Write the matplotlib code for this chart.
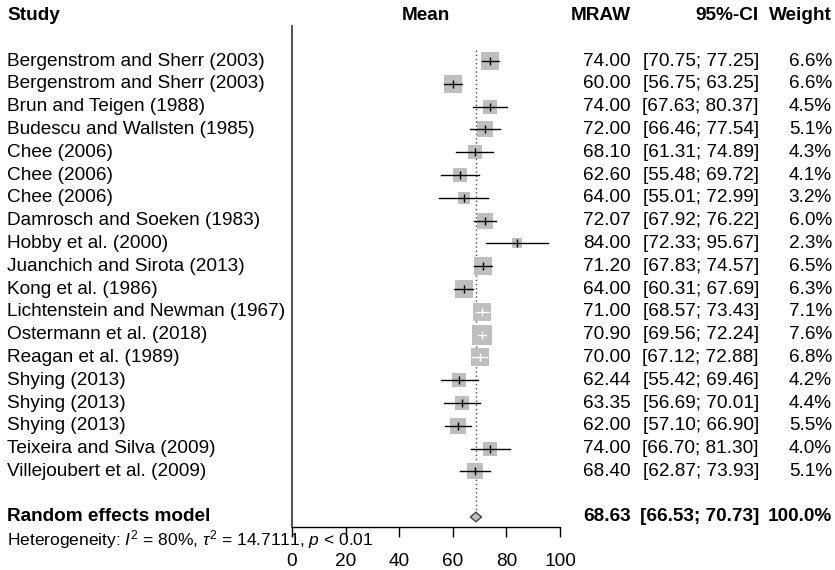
import numpy as np
import matplotlib
matplotlib.use("Agg")
import matplotlib.pyplot as plt
from matplotlib.transforms import blended_transform_factory
from matplotlib.patches import Polygon

plt.rcParams["font.family"] = ["Liberation Sans", "DejaVu Sans"]
plt.rcParams["mathtext.fontset"] = "custom"
plt.rcParams["mathtext.rm"] = "Liberation Sans"
plt.rcParams["mathtext.it"] = "Liberation Sans:italic"

studies = [
    "Bergenstrom and Sherr (2003)", "Bergenstrom and Sherr (2003)",
    "Brun and Teigen (1988)", "Budescu and Wallsten (1985)",
    "Chee (2006)", "Chee (2006)", "Chee (2006)",
    "Damrosch and Soeken (1983)", "Hobby et al. (2000)",
    "Juanchich and Sirota (2013)", "Kong et al. (1986)",
    "Lichtenstein and Newman (1967)", "Ostermann et al. (2018)",
    "Reagan et al. (1989)", "Shying (2013)", "Shying (2013)", "Shying (2013)",
    "Teixeira and Silva (2009)", "Villejoubert et al. (2009)",
]
means = [74.00, 60.00, 74.00, 72.00, 68.10, 62.60, 64.00, 72.07, 84.00, 71.20,
         64.00, 71.00, 70.90, 70.00, 62.44, 63.35, 62.00, 74.00, 68.40]
lower = [70.75, 56.75, 67.63, 66.46, 61.31, 55.48, 55.01, 67.92, 72.33, 67.83,
         60.31, 68.57, 69.56, 67.12, 55.42, 56.69, 57.10, 66.70, 62.87]
upper = [77.25, 63.25, 80.37, 77.54, 74.89, 69.72, 72.99, 76.22, 95.67, 74.57,
         67.69, 73.43, 72.24, 72.88, 69.46, 70.01, 66.90, 81.30, 73.93]
weights = [6.6, 6.6, 4.5, 5.1, 4.3, 4.1, 3.2, 6.0, 2.3, 6.5,
           6.3, 7.1, 7.6, 6.8, 4.2, 4.4, 5.5, 4.0, 5.1]

re_mean, re_lower, re_upper = 68.63, 66.53, 70.73
het_text = r"Heterogeneity: $I^2$ = 80%, $\tau^2$ = 14.7111, $p$ < 0.01"

W, H = 835, 570
fs = 13.7
fig = plt.figure(figsize=(W / 100, H / 100), dpi=100)
ax_left, ax_right, ax_top, ax_bot = 292, 560, 26, 527
ax = fig.add_axes([ax_left / W, (H - ax_bot) / H, (ax_right - ax_left) / W, (ax_bot - ax_top) / H])
ax.set_xlim(0, 100)
ax.set_ylim(20.44, -1.54)
ax.patch.set_alpha(0)
for s in ["top", "right"]:
    ax.spines[s].set_visible(False)
ax.spines["left"].set_color("#555555")
ax.spines["left"].set_linewidth(1.5)
ax.spines["bottom"].set_linewidth(1.0)
ax.set_yticks([])
ax.set_xticks([0, 20, 40, 60, 80, 100])
ax.tick_params(axis="x", length=7.5, width=1.0, pad=11, labelsize=fs)

px_per_unit = (ax_right - ax_left) / 100.0
rows = np.arange(len(studies))

# squares + CI lines (white when the CI fits inside the square)
for i in rows:
    side_px = 17.8 * np.sqrt(weights[i] / 6.6)
    ax.plot(means[i], i, marker="s", markersize=side_px * 0.72, color="#bebebe",
            markeredgewidth=0, zorder=2)
    inside = (upper[i] - lower[i]) * px_per_unit < 0.95 * side_px
    lc = "white" if inside else "black"
    ax.plot([lower[i], upper[i]], [i, i], color=lc, lw=1.0, zorder=3)
    ax.plot(means[i], i, marker="|", markersize=5.5, color=lc, mew=1.0, zorder=3)

# summary diamond and dotted line
ry = 20
h = 0.21
ax.add_patch(Polygon([[re_lower, ry], [re_mean, ry - h], [re_upper, ry], [re_mean, ry + h]],
                     closed=True, facecolor="#bebebe", edgecolor="#444444", lw=1.0, zorder=3))
ax.plot([re_mean, re_mean], [-0.5, ry - h], color="#444444", lw=1.0, ls=(0, (1, 2)), zorder=1)

tr = blended_transform_factory(fig.transFigure, ax.transData)

def fx(px):
    return px / W

x_study, x_mean, x_mraw, x_ci, x_w = 7, 426, 631, 759, 832

# header
hy = -2
ax.text(fx(x_study), hy, "Study", transform=tr, fontsize=fs, weight="bold", va="center", ha="left")
ax.text(fx(x_mean), hy, "Mean", transform=tr, fontsize=fs, weight="bold", va="center", ha="center")
ax.text(fx(x_mraw), hy, "MRAW", transform=tr, fontsize=fs, weight="bold", va="center", ha="right")
ax.text(fx(x_ci), hy, "95%-CI", transform=tr, fontsize=fs, weight="bold", va="center", ha="right")
ax.text(fx(x_w), hy, "Weight", transform=tr, fontsize=fs, weight="bold", va="center", ha="right")

for i in rows:
    ax.text(fx(x_study), i, studies[i], transform=tr, fontsize=fs, va="center", ha="left")
    ax.text(fx(x_mraw), i, f"{means[i]:.2f}", transform=tr, fontsize=fs, va="center", ha="right")
    ax.text(fx(x_ci), i, f"[{lower[i]:.2f}; {upper[i]:.2f}]", transform=tr, fontsize=fs,
            va="center", ha="right")
    ax.text(fx(x_w), i, f"{weights[i]:.1f}%", transform=tr, fontsize=fs, va="center", ha="right")

ax.text(fx(x_study), ry, "Random effects model", transform=tr, fontsize=fs, weight="bold",
        va="center", ha="left")
ax.text(fx(x_mraw), ry, f"{re_mean:.2f}", transform=tr, fontsize=fs, weight="bold", va="center", ha="right")
ax.text(fx(x_ci), ry, f"[{re_lower:.2f}; {re_upper:.2f}]", transform=tr, fontsize=fs,
        weight="bold", va="center", ha="right")
ax.text(fx(x_w), ry, "100.0%", transform=tr, fontsize=fs, weight="bold", va="center", ha="right")
ax.text(fx(x_study), ry + 1, het_text, transform=tr, fontsize=12.5, va="center", ha="left")

fig.savefig("out.png", dpi=100)
